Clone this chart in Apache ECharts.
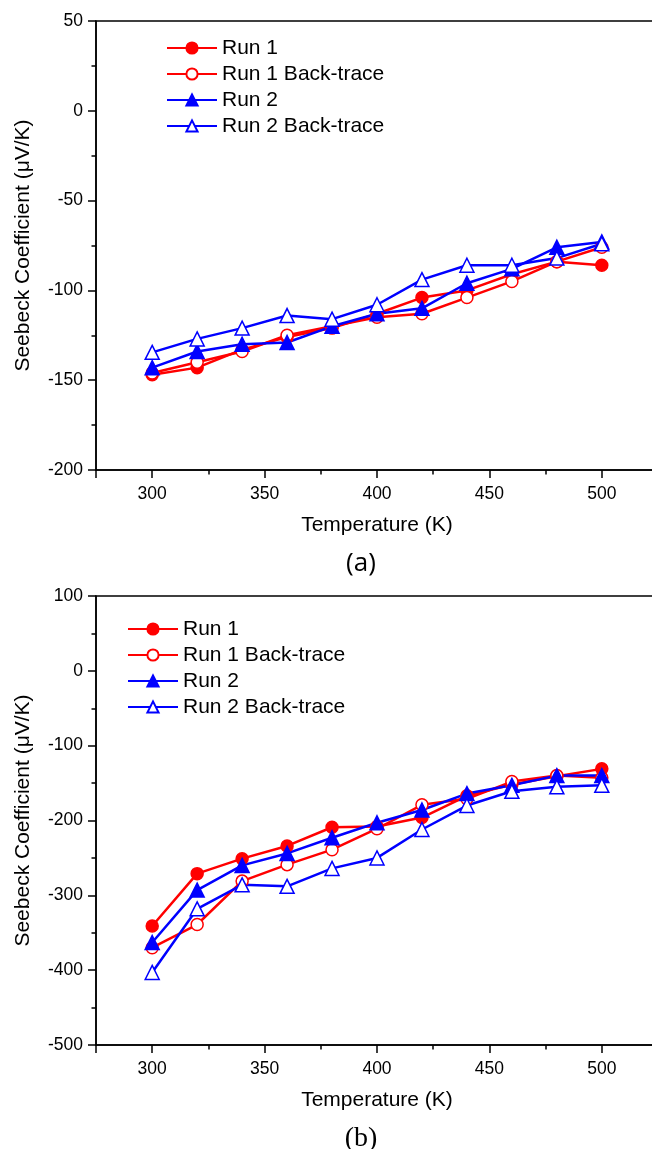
<!DOCTYPE html>
<html>
<head>
<meta charset="utf-8">
<script src="https://cdn.jsdelivr.net/npm/echarts@6/dist/echarts.min.js"></script>
<style>
html,body{margin:0;padding:0;background:#fff;}
#c{width:652px;height:1149px;}
</style>
</head>
<body>
<div id="c"></div>
<script>
const temps = [300, 320, 340, 360, 380, 400, 420, 440, 460, 480, 500];
const seriesNames = ['Run 1', 'Run 1 Back-trace', 'Run 2', 'Run 2 Back-trace'];

// Panel (a)
const run1A   = [-147, -143, -133, -126, -121, -113, -104, -100, -91, -84, -86];
const run1BTA = [-146, -140, -134, -125, -120, -115, -113, -104, -95, -84, -76];
const run2A   = [-143, -134, -130, -129, -120, -113, -110, -96, -88, -76, -73];
const run2BTA = [-134.5, -127, -121, -114, -116, -108, -94, -86, -86, -82, -74];

// Panel (b)
const run1B   = [-341, -271, -251, -234, -209, -208, -196, -167, -152, -141, -131];
const run1BTB = [-370, -339, -281, -259, -239, -211, -179, -171, -148, -140, -143];
const run2B   = [-363, -293, -260, -244, -223, -203, -186, -164, -153, -140, -140];
const run2BTB = [-403, -318, -286, -288, -264, -250, -212, -180, -161, -155, -153];

const xTickLabels = [300, 350, 400, 450, 500];
const yTicksA = [-200, -150, -100, -50, 0, 50];
const yTicksB = [-500, -400, -300, -200, -100, 0, 100];

const FONT = "'Liberation Sans', Arial, Helvetica, sans-serif";
const RED = '#ff0000', BLUE = '#0000ff';

const styles = [
  {symbol: 'circle', size: 12, color: RED, fill: RED},
  {symbol: 'circle', size: 12, color: RED, fill: '#ffffff'},
  {symbol: 'triangle', size: 14, color: BLUE, fill: BLUE},
  {symbol: 'triangle', size: 14, color: BLUE, fill: '#ffffff'}
];

function pairs(vals) { return temps.map((t, i) => [t, vals[i]]); }

function makeSeries(arrs, xi, yi) {
  return arrs.map((a, k) => ({
    name: seriesNames[k],
    type: 'line',
    xAxisIndex: xi, yAxisIndex: yi,
    data: pairs(a),
    symbol: styles[k].symbol,
    symbolSize: styles[k].size,
    showAllSymbol: true,
    lineStyle: {color: styles[k].color, width: 2.5},
    itemStyle: {color: styles[k].fill, borderColor: styles[k].color, borderWidth: 1.5},
    emphasis: {disabled: true},
    animation: false,
    z: 3
  }));
}

const axisLineStyle = {color: '#000', width: 1.5};

function mainX(gi) {
  return {
    type: 'value', gridIndex: gi, min: 275, max: 525, splitNumber: 5,
    axisLine: {show: true, onZero: false, lineStyle: axisLineStyle},
    axisTick: {show: true, inside: false, length: 8, lineStyle: axisLineStyle},
    axisLabel: {
      color: '#000', fontFamily: FONT, fontSize: 17.5, margin: 15,
      formatter: v => (xTickLabels.indexOf(v) >= 0 ? String(v) : '')
    },
    splitLine: {show: false},
    name: 'Temperature (K)', nameLocation: 'middle', nameGap: 45,
    nameTextStyle: {color: '#000', fontFamily: FONT, fontSize: 21}
  };
}
function minorX(gi) {
  return {
    type: 'value', gridIndex: gi, min: 275, max: 525, interval: 25,
    axisLine: {show: false, onZero: false},
    axisTick: {show: true, inside: false, length: 4.5, lineStyle: axisLineStyle},
    axisLabel: {show: false}, splitLine: {show: false}
  };
}
function mainY(gi, mn, mx, iv, ticks) {
  return {
    type: 'value', gridIndex: gi, min: mn, max: mx, interval: iv,
    axisLine: {show: true, onZero: false, lineStyle: axisLineStyle},
    axisTick: {show: true, inside: false, length: 8, lineStyle: axisLineStyle},
    minorTick: {show: true, splitNumber: 2, length: 4.5, lineStyle: axisLineStyle},
    axisLabel: {
      color: '#000', fontFamily: FONT, fontSize: 17.5, margin: 13,
      formatter: v => (ticks.indexOf(v) >= 0 ? String(v) : '')
    },
    splitLine: {show: false},
    name: 'Seebeck Coefficient (\u03BCV/K)', nameLocation: 'middle', nameGap: 62,
    nameTextStyle: {color: '#000', fontFamily: FONT, fontSize: 21}
  };
}
function hiddenY(gi, mn, mx) {
  return {type: 'value', gridIndex: gi, min: mn, max: mx, show: false, splitLine: {show: false}};
}

function grid(top, show) {
  return {left: 96, top: top, width: 562, height: 449, show: show, borderColor: '#000', borderWidth: 1.5,
          backgroundColor: 'transparent', containLabel: false, outerBoundsMode: 'none'};
}

function legend(left, top) {
  return {
    data: seriesNames, orient: 'vertical', left: left, top: top, padding: 0,
    itemWidth: 50, itemHeight: 14, itemGap: 4, selectedMode: false,
    textStyle: {color: '#000', fontFamily: FONT, fontSize: 21, lineHeight: 22}
  };
}

const option = {
  backgroundColor: '#fff',
  animation: false,
  grid: [grid(21, true), grid(596, true), grid(21, false), grid(596, false)],
  xAxis: [mainX(0), mainX(1), minorX(2), minorX(3)],
  yAxis: [mainY(0, -200, 50, 50, yTicksA), mainY(1, -500, 100, 100, yTicksB),
          hiddenY(2, -200, 50), hiddenY(3, -500, 100)],
  legend: [legend(166, 37), legend(127, 618)],
  graphic: [
    {type: 'text', x: 361, y: 564, style: {text: '(a)', fontFamily: "'Open Sans', Lato, sans-serif", fontSize: 26, fill: '#000', align: 'center', verticalAlign: 'middle'}},
    {type: 'text', x: 361, y: 1139, style: {text: '(b)', fontFamily: "'Liberation Serif', 'Times New Roman', serif", fontSize: 28, fill: '#000', align: 'center', verticalAlign: 'middle'}}
  ],
  series: [].concat(
    makeSeries([run1A, run1BTA, run2A, run2BTA], 0, 0),
    makeSeries([run1B, run1BTB, run2B, run2BTB], 1, 1)
  )
};

const chart = echarts.init(document.getElementById('c'), null, {renderer: 'canvas'});
chart.setOption(option);
</script>
</body>
</html>
